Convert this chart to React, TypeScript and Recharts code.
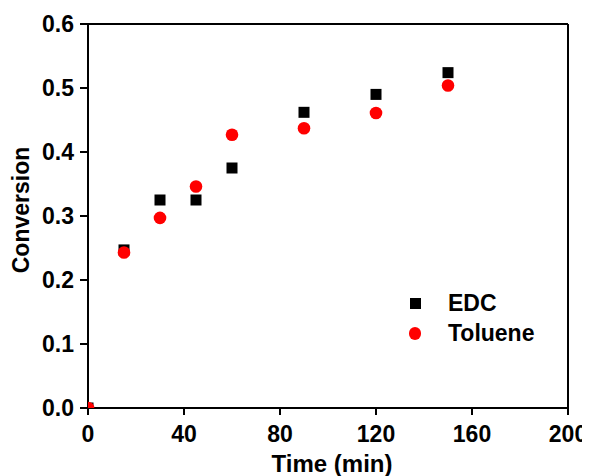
import React from 'react';
import { ScatterChart, Scatter, XAxis, YAxis, Legend, Label } from 'recharts';

const timeMin = [0, 15, 30, 45, 60, 90, 120, 150];
const edcConversion = [0, 0.247, 0.325, 0.325, 0.375, 0.462, 0.490, 0.524];
const tolueneConversion = [0, 0.243, 0.297, 0.346, 0.427, 0.437, 0.461, 0.504];
const xTicks = [0, 40, 80, 120, 160, 200];
const yTicks = [0, 0.1, 0.2, 0.3, 0.4, 0.5, 0.6];

const edcData = timeMin.map((t, i) => ({ x: t, y: edcConversion[i] }));
const tolueneData = timeMin.map((t, i) => ({ x: t, y: tolueneConversion[i] }));

const FONT = '"Liberation Sans", Arial, sans-serif';
const tickStyle = { fontFamily: FONT, fontSize: 23, fontWeight: 700, fill: '#000' };
const axisLine = { stroke: '#000', strokeWidth: 2 };

const SquareShape = (props: any) => {
  const { cx, cy } = props;
  return <rect x={cx - 5.5} y={cy - 5.5} width={11} height={11} fill="#000" />;
};
const CircleShape = (props: any) => {
  const { cx, cy } = props;
  return <circle cx={cx} cy={cy} r={6.3} fill="#ff0000" />;
};

const YTitle = (props: any) => {
  const vb = props.viewBox || { x: 0, y: 0, width: 0, height: 0 };
  const cx = vb.x + 21;
  const cy = vb.y + vb.height / 2 - 6;
  return (
    <text
      x={cx}
      y={cy}
      transform={`rotate(-90 ${cx} ${cy})`}
      textAnchor="middle"
      style={{ fontFamily: FONT, fontSize: 23, fontWeight: 700 }}
      fill="#000"
    >
      Conversion
    </text>
  );
};

const LegendContent = () => (
  <div style={{ fontFamily: FONT, fontSize: 23, fontWeight: 700, color: '#000' }}>
    <div style={{ display: 'flex', alignItems: 'center', height: 29.5, lineHeight: '29.5px' }}>
      <div style={{ width: 18, display: 'flex', justifyContent: 'center' }}>
        <div style={{ width: 11, height: 11, background: '#000' }} />
      </div>
      <span style={{ marginLeft: 24 }}>EDC</span>
    </div>
    <div style={{ display: 'flex', alignItems: 'center', height: 29.5, lineHeight: '29.5px' }}>
      <div style={{ width: 18, display: 'flex', justifyContent: 'center' }}>
        <div style={{ width: 12.6, height: 12.6, borderRadius: '50%', background: '#ff0000' }} />
      </div>
      <span style={{ marginLeft: 24 }}>Toluene</span>
    </div>
  </div>
);

export default function App() {
  return (
    <ScatterChart
      width={582}
      height={468}
      margin={{ top: 15, right: 21, left: 0, bottom: 0 }}
      style={{ background: '#fff' }}
    >
      <XAxis
        xAxisId={0}
        type="number"
        dataKey="x"
        domain={[0, 200]}
        ticks={xTicks}
        allowDataOverflow
        height={68}
        tick={tickStyle}
        tickSize={7}
        tickMargin={11}
        axisLine={axisLine}
        tickLine={axisLine}
        interval={0}
      >
        <Label
          value="Time (min)"
          position="insideBottom"
          offset={4}
          dx={4}
          style={{ fontFamily: FONT, fontSize: 24, fontWeight: 700, fill: '#000' }}
        />
      </XAxis>
      <XAxis
        xAxisId="top"
        orientation="top"
        type="number"
        dataKey="x"
        domain={[0, 200]}
        ticks={xTicks}
        allowDataOverflow
        height={1}
        tick={false}
        tickSize={-7}
        axisLine={axisLine}
        tickLine={axisLine}
        interval={0}
      />
      <YAxis
        yAxisId={0}
        type="number"
        dataKey="y"
        domain={[0, 0.6]}
        ticks={yTicks}
        allowDataOverflow
        width={80}
        tick={tickStyle}
        tickSize={8}
        tickMargin={6}
        axisLine={axisLine}
        tickLine={axisLine}
        tickFormatter={(v: number) => v.toFixed(1)}
        interval={0}
      >
        <Label content={<YTitle />} />
      </YAxis>
      <YAxis
        yAxisId="right"
        orientation="right"
        type="number"
        dataKey="y"
        domain={[0, 0.6]}
        ticks={yTicks}
        allowDataOverflow
        width={1}
        tick={false}
        tickSize={-7}
        axisLine={axisLine}
        tickLine={axisLine}
        interval={0}
      />
      <Legend
        layout="vertical"
        align="center"
        verticalAlign="middle"
        content={<LegendContent />}
        wrapperStyle={{ left: 398, top: 281, width: 'auto', height: 'auto' }}
      />
      <Scatter name="EDC" data={edcData} shape={<SquareShape />} isAnimationActive={false} />
      <Scatter name="Toluene" data={tolueneData} shape={<CircleShape />} isAnimationActive={false} />
    </ScatterChart>
  );
}
